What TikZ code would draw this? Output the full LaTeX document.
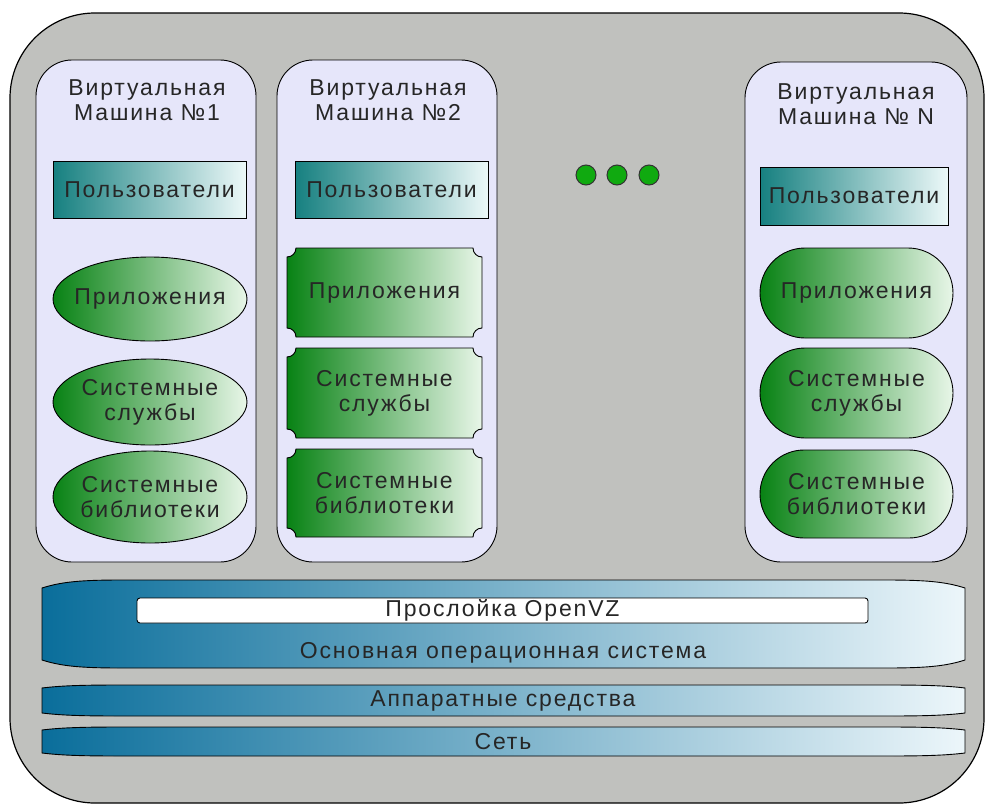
\documentclass[tikz,border=0pt]{standalone}
\usepackage{fontspec}
\setmainfont{Liberation Sans}[LetterSpace=8]
\usetikzlibrary{shapes.geometric,shapes.misc}

\definecolor{panelgray}{RGB}{192,193,190}
\definecolor{vmfill}{RGB}{230,230,250}
\definecolor{tealdark}{RGB}{22,128,128}
\definecolor{teallight}{RGB}{236,248,248}
\definecolor{greendark}{RGB}{8,130,20}
\definecolor{greenlight}{RGB}{232,246,232}
\definecolor{bluedark}{RGB}{10,110,155}
\definecolor{bluemid}{RGB}{55,152,196}
\definecolor{bluelight}{RGB}{236,246,250}
\definecolor{dotgreen}{RGB}{16,170,16}

% plaque with cut-in corners: x0 y0 x1 y1
\newcommand{\plaque}[4]{%
  \path[tile] (#1+9,#2) -- (#3-9,#2) .. controls (#3-9,#2+5) and (#3-5,#2+9) .. (#3,#2+9)
    -- (#3,#4-9) .. controls (#3-5,#4-9) and (#3-9,#4-5) .. (#3-9,#4)
    -- (#1+9,#4) .. controls (#1+9,#4-5) and (#1+5,#4-9) .. (#1,#4-9)
    -- (#1,#2+9) .. controls (#1+5,#2+9) and (#1+9,#2+5) .. cycle;}

% layer band with flared ends: x0 y0 x1 y1 flare
\newcommand{\band}[5]{%
  \path[layer] (#1,#2+#5) .. controls (#1+20,#2+0.2*#5) and (#1+40,#2) .. (#1+80,#2)
    -- (#3-80,#2) .. controls (#3-40,#2) and (#3-20,#2+0.2*#5) .. (#3,#2+#5)
    -- (#3,#4-#5) .. controls (#3-20,#4-0.2*#5) and (#3-40,#4) .. (#3-80,#4)
    -- (#1+80,#4) .. controls (#1+40,#4) and (#1+20,#4-0.2*#5) .. (#1,#4-#5) -- cycle;}

\begin{document}
\begin{tikzpicture}[
    x=1pt, y=-1pt,
    every node/.style={align=center, inner sep=0pt, text=black!85, font=\fontsize{23}{25}\selectfont},
    vm/.style={rectangle, draw, line width=0.9pt, fill=vmfill, rounded corners=36pt},
    users/.style={rectangle, draw, line width=0.9pt, left color=tealdark, right color=teallight, minimum width=193pt, minimum height=57pt},
    app/.style={ellipse, draw, line width=0.9pt, left color=greendark, right color=greenlight, minimum width=194pt, inner xsep=-22pt},
    pill/.style={rounded rectangle, draw, line width=0.9pt, left color=greendark, right color=greenlight, minimum width=193pt, minimum height=90pt},
    tile/.style={draw, line width=0.9pt, left color=greendark, right color=greenlight},
    dot/.style={circle, draw=black!80, line width=1pt, fill=dotgreen, minimum size=20pt},
    layer/.style={draw, line width=0.9pt, left color=bluedark, middle color=bluemid, right color=bluelight},
    slot/.style={rectangle, draw, line width=0.9pt, fill=white, rounded corners=3pt, minimum width=731pt, minimum height=25pt}
]
\useasboundingbox (0,0) rectangle (985,806);

% frame
\draw[line width=1.2pt, fill=panelgray, rounded corners=85pt] (10,13) rectangle (984,803);

% virtual machines
\node[vm, minimum width=220pt, minimum height=502pt] (vm1) at (146,311) {};
\node[vm, minimum width=220pt, minimum height=502pt] (vm2) at (387,311) {};
\node[vm, minimum width=222pt, minimum height=500pt] (vmN) at (856,312) {};

\node (t1) at (147,100) {Виртуальная\\Машина №1};
\node (t2) at (388,100) {Виртуальная\\Машина №2};
\node (tN) at (856,104) {Виртуальная\\Машина № N};

\node[users] (u1) at (149.5,190) {Пользователи};
\node[users] (u2) at (391.5,189.5) {Пользователи};
\node[users, minimum width=188pt, minimum height=58pt] (uN) at (854,196) {Пользователи};

% VM 1
\node[app, minimum height=84pt] (a1) at (150,299) {Приложения};
\node[app, minimum height=86pt] (a2) at (150,402) {Системные\\службы};
\node[app, minimum height=92pt] (a3) at (150,497) {Системные\\библиотеки};

% VM 2
\plaque{287}{248}{482}{337}
\plaque{287}{348}{482}{438}
\plaque{287}{449}{482}{537}
\node (b1) at (384.5,292.5) {Приложения};
\node (b2) at (384.5,393) {Системные\\службы};
\node (b3) at (384.5,493) {Системные\\библиотеки};

% VM N
\node[pill] (c1) at (856.5,293) {Приложения};
\node[pill] (c2) at (856.5,393) {Системные\\службы};
\node[pill, minimum height=88pt] (c3) at (856.5,494) {Системные\\библиотеки};

% dots
\node[dot] (d1) at (586,175) {};
\node[dot] (d2) at (617,175) {};
\node[dot] (d3) at (649,175) {};

% layers
\band{42}{580}{965}{668}{8}
\node[slot] (ovz) at (502.5,610.5) {Прослойка OpenVZ};
\node (os) at (503,653) {Основная операционная система};

\band{42}{685}{965}{716}{3}
\node (hw) at (503,700.5) {Аппаратные средства};

\band{42}{727}{965}{756}{3}
\node (net) at (503,741.5) {Сеть};

\end{tikzpicture}
\end{document}
